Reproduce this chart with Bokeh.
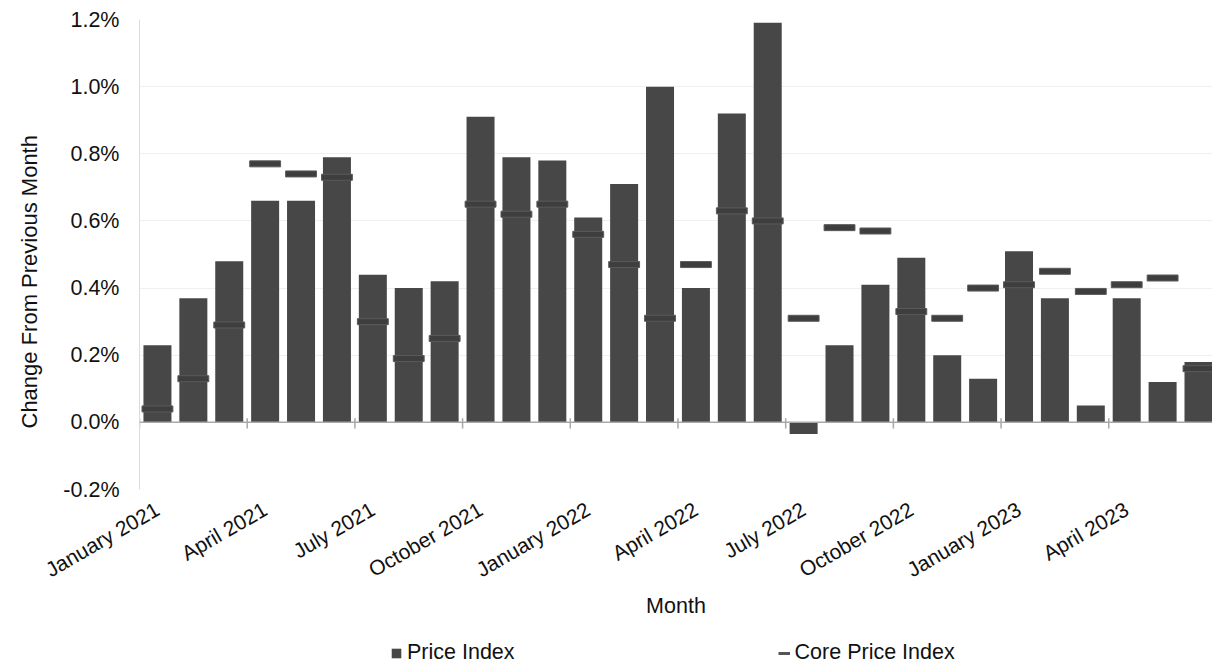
import math

from bokeh.embed import file_html
from bokeh.layouts import column
from bokeh.models import (ColumnDataSource, FixedTicker, Legend, LegendItem, LinearAxis,
                          PrintfTickFormatter, Range1d, Span, Title)
from bokeh.plotting import figure
from bokeh.resources import INLINE

# Monthly change, in percent
months = [
    "January 2021", "February 2021", "March 2021", "April 2021", "May 2021", "June 2021",
    "July 2021", "August 2021", "September 2021", "October 2021", "November 2021", "December 2021",
    "January 2022", "February 2022", "March 2022", "April 2022", "May 2022", "June 2022",
    "July 2022", "August 2022", "September 2022", "October 2022", "November 2022", "December 2022",
    "January 2023", "February 2023", "March 2023", "April 2023", "May 2023", "June 2023",
]
price_index = [
    0.23, 0.37, 0.48, 0.66, 0.66, 0.79,
    0.44, 0.40, 0.42, 0.91, 0.79, 0.78,
    0.61, 0.71, 1.00, 0.40, 0.92, 1.19,
    -0.035, 0.23, 0.41, 0.49, 0.20, 0.13,
    0.51, 0.37, 0.05, 0.37, 0.12, 0.18,
]
core_price_index = [
    0.04, 0.13, 0.29, 0.77, 0.74, 0.73,
    0.30, 0.19, 0.25, 0.65, 0.62, 0.65,
    0.56, 0.47, 0.31, 0.47, 0.63, 0.60,
    0.31, 0.58, 0.57, 0.33, 0.31, 0.40,
    0.41, 0.45, 0.39, 0.41, 0.43, 0.16,
]
y_ticks = [-0.2, 0.0, 0.2, 0.4, 0.6, 0.8, 1.0, 1.2]
label_step = 3

FONT = "Liberation Sans"
BAR = "#474747"
MARK = "#3e3e3e"
INK = "#111111"
AXIS = "#a8a8a8"

idx = list(range(len(months)))
source = ColumnDataSource(dict(x=idx, month=months, price=price_index, core=core_price_index))

label_positions = idx[::label_step]
label_text = {i: months[i] for i in label_positions}
boundaries = [i - 0.5 for i in label_positions]

p = figure(
    width=1212, height=627,
    x_range=Range1d(-0.5, 29.39), y_range=Range1d(-0.2, 1.2),
    x_axis_type=None, output_backend="svg", toolbar_location=None,
    min_border_left=139, min_border_right=0, min_border_top=19, min_border_bottom=138,
)
p.outline_line_color = None
p.background_fill_color = "white"

# y axis
yax = p.yaxis[0]
yax.ticker = FixedTicker(ticks=y_ticks)
yax.formatter = PrintfTickFormatter(format="%.1f%%")
yax.axis_line_color = "#dcdcdc"
yax.major_tick_line_color = None
yax.minor_tick_line_color = None
yax.major_tick_out = 0
yax.major_label_standoff = 20
yax.major_label_text_font = FONT
yax.major_label_text_font_size = "21.5px"
yax.major_label_text_color = INK

p.add_layout(Title(text="Change From Previous Month", align="left", offset=61,
                   vertical_align="top", standoff=33,
                   text_font=FONT, text_font_size="22px", text_font_style="normal",
                   text_color=INK), "left")

p.ygrid.ticker = FixedTicker(ticks=y_ticks)
p.ygrid.grid_line_color = "#f0f0f0"

# category labels along the bottom
xlab = LinearAxis(
    ticker=FixedTicker(ticks=label_positions),
    major_label_overrides=label_text,
    major_label_orientation=math.radians(30),
    axis_line_color=None, major_tick_line_color=None, minor_tick_line_color=None,
    major_label_standoff=12,
    major_label_text_font=FONT, major_label_text_font_size="21px", major_label_text_color=INK,
    axis_label="Month", axis_label_text_font=FONT, axis_label_text_font_size="21.5px",
    axis_label_text_font_style="normal", axis_label_text_color=INK, axis_label_standoff=0,
)
p.add_layout(xlab, "below")

# zero line with ticks on every third category boundary
p.add_layout(Span(location=0, dimension="width", line_color=AXIS, line_width=1.5))
p.segment(x0=boundaries, x1=boundaries, y0=[-0.018] * len(boundaries), y1=[0.012] * len(boundaries),
          line_color=AXIS, line_width=1.5)

p.vbar(x="x", top="price", bottom=0, width=0.78, source=source,
       fill_color=BAR, line_color=None)
p.rect(x="x", y="core", width=0.86, height=6, height_units="screen", source=source,
       fill_color=MARK, line_color="#5a5a5a", line_width=1)

# legend strip under the chart; its renderers stay muted (fully transparent),
# so only the legend keys are painted
key = figure(
    width=1212, height=40, x_range=Range1d(-0.5, 29.39), y_range=Range1d(-10, -9),
    x_axis_type=None, y_axis_type=None, output_backend="svg", toolbar_location=None,
    min_border=0,
)
key.outline_line_color = None
key.xgrid.visible = False
key.ygrid.visible = False
price_key = key.vbar(x="x", top="price", bottom=0, width=0.78, source=source,
                     fill_color=BAR, line_color=None,
                     muted_fill_alpha=0, muted_line_alpha=0)
core_key = key.line(x="x", y="core", source=source, line_color="#555555", line_width=3,
                    muted_line_alpha=0)
price_key.muted = True
core_key.muted = True
legend = Legend(
    items=[LegendItem(label="Price Index", renderers=[price_key]),
           LegendItem(label="Core Price Index", renderers=[core_key])],
    orientation="horizontal", location=(251, 2),
    glyph_width=12, glyph_height=12, label_standoff=5, spacing=263,
    label_text_font=FONT, label_text_font_size="21.5px", label_text_color=INK,
    border_line_color=None, background_fill_alpha=0, padding=0, margin=0,
)
key.add_layout(legend)

page = column(p, key, spacing=0)
open("out.html", "w").write(file_html(page, INLINE))
